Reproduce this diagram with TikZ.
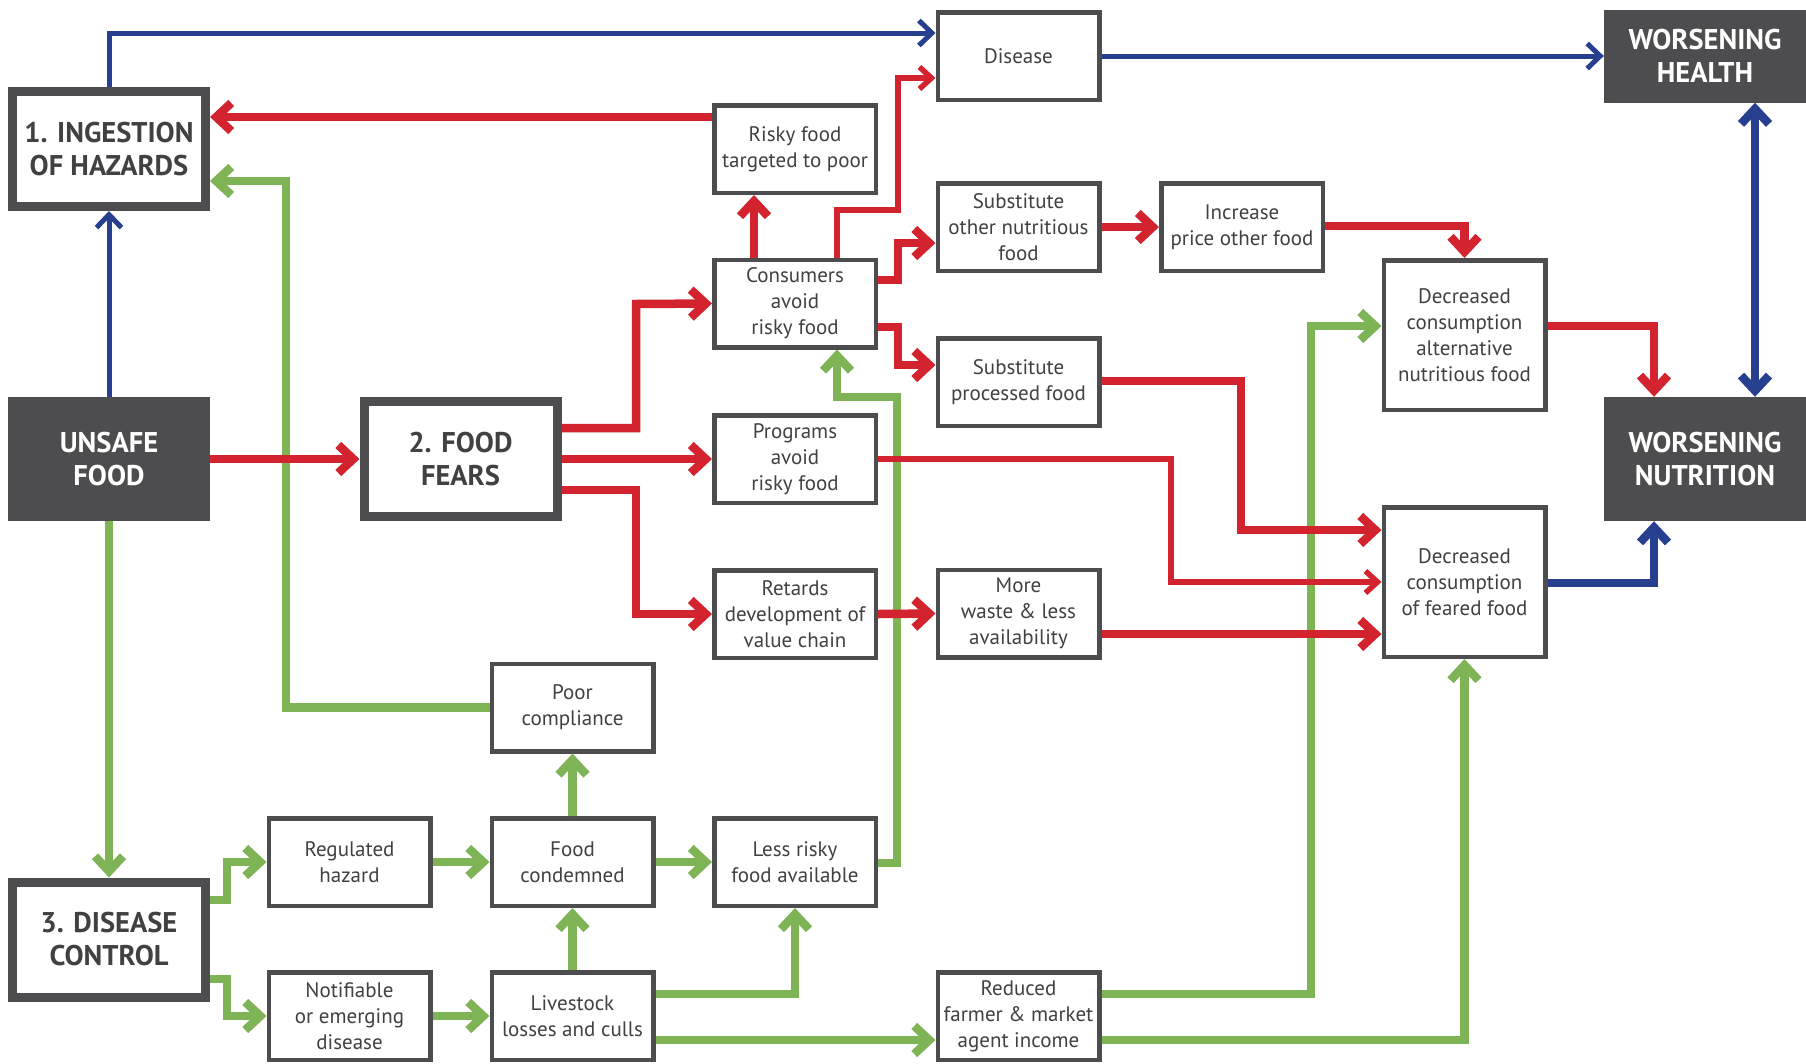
\documentclass[tikz,border=0pt]{standalone}
\usepackage{fontspec}
\setmainfont{PT Sans}
\usetikzlibrary{arrows.meta}
\definecolor{fearred}{HTML}{D2232E}
\definecolor{ctrlgreen}{HTML}{7EB356}
\definecolor{hazblue}{HTML}{263F8E}
\definecolor{boxgray}{HTML}{4D4D4F}
\definecolor{txtgray}{HTML}{414042}
\begin{document}
\begin{tikzpicture}[x=1pt, y=-1pt, line join=miter, >={Straight Barb[length=15pt,width=28pt]}]
	\tikzset{box/.style={draw=boxgray, line width=4.5pt, fill=white, text=txtgray, align=center, inner sep=0pt,
			minimum width=161.5pt, minimum height=87.5pt, font=\fontsize{21}{26}\selectfont},
		tallbox/.style={box, minimum height=149.5pt},
		bigbox/.style={box, line width=9pt, minimum width=193pt, minimum height=115pt, font=\fontsize{28.5}{33}\selectfont\bfseries},
		darkbox/.style={fill=boxgray, text=white, align=center, inner sep=0pt, minimum width=202pt, minimum height=124pt, font=\fontsize{28.5}{33}\selectfont\bfseries},
		grn/.style={draw=ctrlgreen, line width=8.5pt, ->},
		rdl/.style={draw=fearred, line width=8.5pt, ->},
		rdm/.style={draw=fearred, line width=5.5pt, ->, >={Straight Barb[length=12pt,width=22pt]}},
		blu/.style={draw=hazblue, line width=5pt, ->, >={Straight Barb[length=13pt,width=25pt]}}}
	\useasboundingbox (0,0) rectangle (1806,1063);
	% left column
	\node[bigbox] (ingest) at (109,149) {1. INGESTION\\OF HAZARDS};
	\node[darkbox] (unsafe) at (109,459) {UNSAFE\\FOOD};
	\node[bigbox] (fears) at (460.5,459) {2. FOOD\\FEARS};
	\node[bigbox] (control) at (109,939.5) {3. DISEASE\\CONTROL};
	% middle boxes
	\node[box] (risky) at (795,149) {Risky food\\targeted to poor};
	\node[box] (consumers) at (795,303.5) {Consumers\\avoid\\risky food};
	\node[box] (programs) at (795,459) {Programs\\avoid\\risky food};
	\node[box] (retards) at (795,614) {Retards\\development of\\value chain};
	\node[box] (poorcomp) at (572.5,707.5) {Poor\\compliance};
	\node[box] (regulated) at (349.5,862) {Regulated\\hazard};
	\node[box] (condemned) at (572.5,862) {Food\\condemned};
	\node[box] (lessrisky) at (795,862) {Less risky\\food available};
	\node[box] (notifiable) at (349.5,1016) {Notifiable\\or emerging\\disease};
	\node[box] (livestock) at (572.5,1016) {Livestock\\losses and culls};
	\node[box] (disease) at (1018.5,56) {Disease};
	\node[box] (subother) at (1018.5,227) {Substitute\\other nutritious\\food};
	\node[box] (subproc) at (1018.5,382) {Substitute\\processed food};
	\node[box] (morewaste) at (1018.5,613.5) {More\\waste \& less\\availability};
	\node[box] (reduced) at (1018.5,1016) {Reduced\\farmer \& market\\agent income};
	\node[box] (increase) at (1242,227) {Increase\\price other food};
	\node[tallbox] (decalt) at (1464.5,335) {Decreased\\consumption\\alternative\\nutritious food};
	\node[tallbox] (decfear) at (1464.5,582) {Decreased\\consumption\\of feared food};
	% outcomes
	\node[darkbox, minimum height=93pt] (health) at (1705,56) {WORSENING\\HEALTH};
	\node[darkbox] (nutrition) at (1705,459) {WORSENING\\NUTRITION};
	% disease control paths
	\draw[grn] (unsafe.south) -- (control.north);
	\draw[grn] (poorcomp.west) -| (286,181) -- (ingest.east |- 0,181);
	\draw[grn] (control.east |- 0,900) -| (227,862) -- (regulated.west);
	\draw[grn] (control.east |- 0,979) -| (227,1016) -- (notifiable.west);
	\draw[grn] (regulated.east) -- (condemned.west);
	\draw[grn] (condemned.east) -- (lessrisky.west);
	\draw[grn] (condemned.north) -- (poorcomp.south);
	\draw[grn] (livestock.north) -- (condemned.south);
	\draw[grn] (notifiable.east) -- (livestock.west);
	\draw[grn] (livestock.east |- 0,994) -| (lessrisky.south);
	\draw[grn] (livestock.east |- 0,1040) -- (reduced.west |- 0,1040);
	\draw[grn] (reduced.east |- 0,994) -| (1311,326) -- (decalt.west |- 0,326);
	\draw[grn] (reduced.east |- 0,1040) -| (decfear.south);
	\draw[grn] (lessrisky.east |- 0,863) -| (897,397) -| (consumers.south -| 837,0);
	% food fear paths
	\draw[rdl] (unsafe.east) -- (fears.west);
	\draw[rdl] (fears.east |- 0,428) -| (636,304) -- (consumers.west);
	\draw[rdl] (fears.east) -- (programs.west);
	\draw[rdl] (fears.east |- 0,490) -| (636,614) -- (retards.west);
	\draw[rdm] (programs.east) -| (1171,582) -- (decfear.west);
	\draw[rdl] (retards.east) -- (morewaste.west);
	\draw[rdl] (morewaste.east |- 0,634) -- (decfear.west |- 0,634);
	\draw[rdl] (risky.west |- 0,117) -- (ingest.east |- 0,117);
	\draw[rdl] (consumers.north -| 754,0) -- (risky.south -| 754,0);
	\draw[rdm] (consumers.north -| 837,0) |- (898,210) |- (disease.west |- 0,78);
	\draw[rdl] (consumers.east |- 0,280) -| (898,243) -- (subother.west |- 0,243);
	\draw[rdl] (consumers.east |- 0,327) -| (898,365) -- (subproc.west |- 0,365);
	\draw[rdl] (subother.east) -- (increase.west);
	\draw[rdl] (increase.east |- 0,226) -| (decalt.north);
	\draw[rdl] (decalt.east |- 0,326) -| (nutrition.north -| 1654,0);
	\draw[rdl] (subproc.east |- 0,381) -| (1241,530) -- (decfear.west |- 0,530);
	% health paths
	\draw[blu] (ingest.north) |- (disease.west |- 0,33);
	\draw[blu] (unsafe.north) -- (ingest.south);
	\draw[blu] (disease.east) -- (health.west);
	\draw[blu, line width=8.5pt, <->, >={Straight Barb[length=15pt,width=28pt]}] (health.south -| 1755,0) -- (nutrition.north -| 1755,0);
	\draw[blu, line width=8.5pt, >={Straight Barb[length=15pt,width=28pt]}] (decfear.east |- 0,583) -| (nutrition.south -| 1654,0);
\end{tikzpicture}
\end{document}
